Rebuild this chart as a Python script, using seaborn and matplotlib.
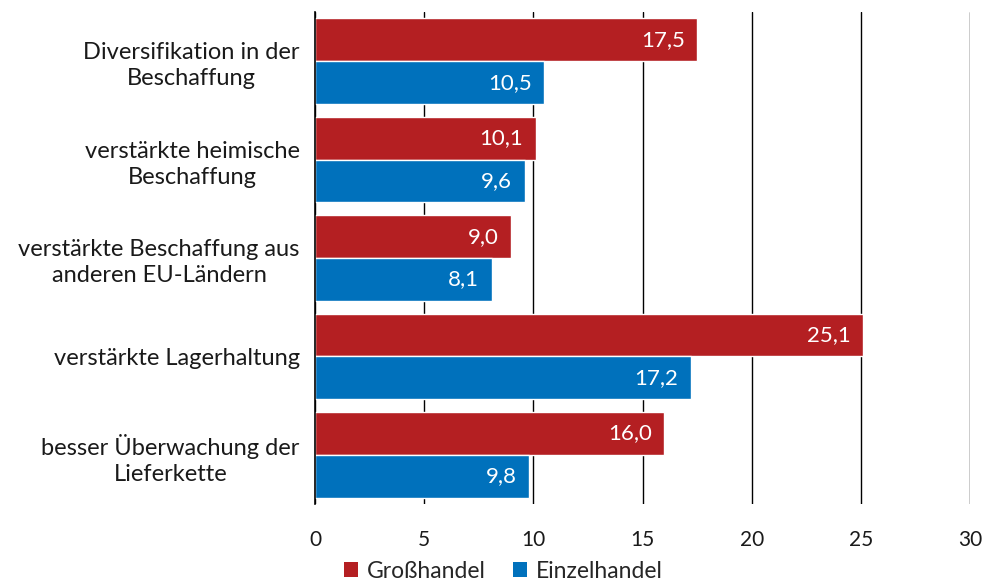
import matplotlib
matplotlib.use("Agg")
import matplotlib.pyplot as plt
import seaborn as sns
import pandas as pd
from matplotlib.patches import Patch

categories = [
    "Diversifikation in der\nBeschaffung",
    "verstärkte heimische\nBeschaffung",
    "verstärkte Beschaffung aus\nanderen EU-Ländern",
    "verstärkte Lagerhaltung",
    "besser Überwachung der\nLieferkette",
]
series_names = ["Großhandel", "Einzelhandel"]
grosshandel = [17.5, 10.1, 9.0, 25.1, 16.0]
einzelhandel = [10.5, 9.6, 8.1, 17.2, 9.8]
x_ticks = [0, 5, 10, 15, 20, 25, 30]
colors = ["#B41F22", "#0071BC"]

df = pd.DataFrame({
    "Kategorie": categories * 2,
    "Serie": [series_names[0]] * 5 + [series_names[1]] * 5,
    "Wert": grosshandel + einzelhandel,
})

sns.set_theme(style="white")
plt.rcParams["font.family"] = ["Lato", "DejaVu Sans"]

fig = plt.figure(figsize=(9.87, 5.86), dpi=100)
ax = fig.add_axes([315 / 987, 1 - 504 / 586, 655 / 987, 492 / 586])

sns.barplot(data=df, y="Kategorie", x="Wert", hue="Serie", order=categories,
            hue_order=series_names, palette=colors, orient="h", width=0.87,
            saturation=1, ax=ax, legend=False)

ax.set_xlim(0, 30)
ax.set_ylim(4.5, -0.5)
ax.set_xticks(x_ticks)
ax.set_xticklabels([str(t) for t in x_ticks])
ax.set_xlabel("")
ax.set_ylabel("")
ax.xaxis.grid(True, color="black", linewidth=1)
ax.set_axisbelow(True)
for s in ["top", "right", "bottom"]:
    ax.spines[s].set_visible(False)
ax.spines["left"].set_color("black")
ax.spines["left"].set_linewidth(1.2)
ax.spines["left"].set_zorder(5)
ax.tick_params(axis="x", length=0, pad=19, labelsize=15, colors="#1a1a1a")
ax.tick_params(axis="y", length=0, pad=11, labelsize=17, colors="#1a1a1a")
for lbl in ax.get_yticklabels():
    lbl.set_multialignment("center")
    lbl.set_linespacing(1.3)

for cont in ax.containers:
    for p in cont.patches:
        v = p.get_width()
        ax.annotate(f"{v:.1f}".replace(".", ","),
                    xy=(p.get_x() + v, p.get_y() + p.get_height() / 2),
                    xytext=(-9, 0), textcoords="offset points",
                    ha="right", va="center", color="white", fontsize=16)

handles = [Patch(facecolor=c, edgecolor="none") for c in colors]
fig.legend(handles, series_names, loc="lower center", bbox_to_anchor=(0.51, -0.028),
           ncol=2, frameon=False, fontsize=16.5, handlelength=0.6, handleheight=0.6,
           handletextpad=0.4, columnspacing=1.2)

fig.savefig("out.png", dpi=100)
